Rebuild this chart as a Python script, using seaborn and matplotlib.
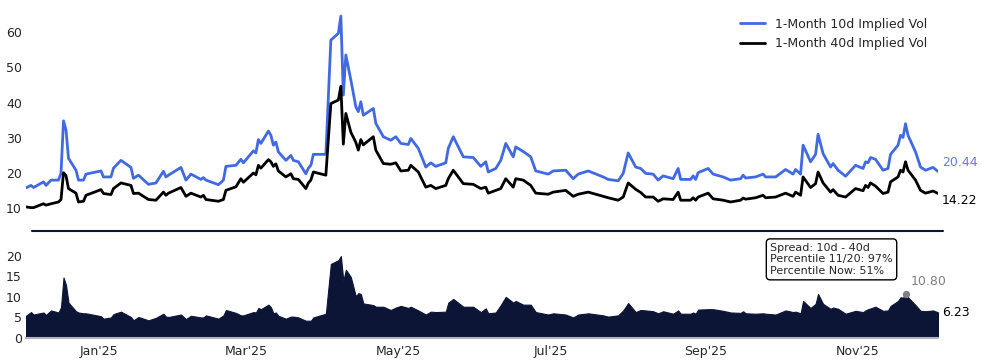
import pandas as pd
import matplotlib.pyplot as plt
import matplotlib.dates as mdates
from matplotlib.lines import Line2D
import seaborn as sns

dates = [
    "2024-12-03", "2024-12-05", "2024-12-06", "2024-12-10", "2024-12-11", "2024-12-13",
    "2024-12-16", "2024-12-17", "2024-12-18", "2024-12-19", "2024-12-20", "2024-12-23",
    "2024-12-24", "2024-12-26", "2024-12-27", "2025-01-02", "2025-01-03", "2025-01-06",
    "2025-01-07", "2025-01-10", "2025-01-14", "2025-01-15", "2025-01-17", "2025-01-21",
    "2025-01-24", "2025-01-27", "2025-01-28", "2025-01-29", "2025-02-03", "2025-02-05",
    "2025-02-07", "2025-02-11", "2025-02-12", "2025-02-13", "2025-02-18", "2025-02-20",
    "2025-02-21", "2025-02-25", "2025-02-27", "2025-02-28", "2025-03-04", "2025-03-05",
    "2025-03-06", "2025-03-07", "2025-03-10", "2025-03-11", "2025-03-12", "2025-03-13",
    "2025-03-14", "2025-03-17", "2025-03-19", "2025-03-20", "2025-03-22", "2025-03-25",
    "2025-03-26", "2025-03-27", "2025-03-28", "2025-04-02", "2025-04-04", "2025-04-07",
    "2025-04-08", "2025-04-09", "2025-04-10", "2025-04-12", "2025-04-14", "2025-04-15",
    "2025-04-16", "2025-04-17", "2025-04-21", "2025-04-22", "2025-04-25", "2025-04-28",
    "2025-04-30", "2025-05-02", "2025-05-05", "2025-05-06", "2025-05-09", "2025-05-12",
    "2025-05-14", "2025-05-16", "2025-05-20", "2025-05-21", "2025-05-23", "2025-05-27",
    "2025-05-31", "2025-06-03", "2025-06-05", "2025-06-06", "2025-06-09", "2025-06-11",
    "2025-06-13", "2025-06-16", "2025-06-17", "2025-06-20", "2025-06-23", "2025-06-25",
    "2025-06-30", "2025-07-02", "2025-07-07", "2025-07-10", "2025-07-12", "2025-07-16",
    "2025-07-22", "2025-07-24", "2025-07-28", "2025-07-30", "2025-08-01", "2025-08-04",
    "2025-08-06", "2025-08-08", "2025-08-11", "2025-08-13", "2025-08-15", "2025-08-19",
    "2025-08-21", "2025-08-22", "2025-08-26", "2025-08-27", "2025-08-28", "2025-08-29",
    "2025-09-02", "2025-09-04", "2025-09-08", "2025-09-11", "2025-09-15", "2025-09-16",
    "2025-09-17", "2025-09-21", "2025-09-24", "2025-09-25", "2025-09-29", "2025-10-03",
    "2025-10-06", "2025-10-07", "2025-10-09", "2025-10-10", "2025-10-13", "2025-10-15",
    "2025-10-16", "2025-10-18", "2025-10-21", "2025-10-22", "2025-10-24", "2025-10-27",
    "2025-10-31", "2025-11-03", "2025-11-04", "2025-11-05", "2025-11-06", "2025-11-08",
    "2025-11-11", "2025-11-13", "2025-11-14", "2025-11-17", "2025-11-18", "2025-11-19",
    "2025-11-20", "2025-11-21", "2025-11-24", "2025-11-26", "2025-11-28", "2025-12-01",
    "2025-12-03",
]

vol_10d = [
    15.8, 16.5, 15.9, 17.5, 16.5, 18.0, 18.0, 20.0, 34.8, 32.2, 24.2, 20.8,
    18.0, 18.0, 19.7, 20.6, 18.9, 18.9, 21.4, 23.6, 21.6, 18.5, 19.4, 16.8,
    17.2, 20.5, 18.9, 19.4, 21.6, 18.0, 19.7, 18.2, 18.7, 18.0, 16.7, 18.0,
    21.9, 22.2, 23.9, 22.9, 26.3, 25.7, 29.5, 28.4, 31.9, 30.7, 27.9, 28.8,
    26.0, 23.6, 25.0, 23.6, 23.2, 19.8, 21.4, 22.2, 25.3, 25.3, 57.7, 59.6,
    64.5, 42.1, 53.5, 46.4, 38.8, 37.4, 40.2, 36.4, 38.3, 34.1, 30.3, 29.3,
    30.3, 28.4, 28.1, 29.8, 27.0, 21.7, 22.9, 21.9, 22.9, 27.0, 30.3, 24.6,
    24.4, 21.9, 23.2, 20.3, 21.3, 23.6, 28.4, 24.6, 27.4, 26.1, 24.6, 20.6,
    19.7, 20.6, 20.8, 18.4, 19.7, 20.6, 18.9, 18.2, 17.8, 19.9, 25.7, 21.7,
    21.3, 19.9, 19.7, 18.0, 19.2, 18.4, 21.3, 18.2, 18.2, 19.2, 18.2, 20.1,
    21.3, 19.7, 18.9, 18.0, 18.4, 19.4, 18.6, 18.9, 19.7, 18.9, 18.9, 21.0,
    19.7, 21.0, 19.7, 27.9, 23.2, 25.3, 31.0, 25.5, 21.7, 22.7, 20.8, 19.1,
    22.2, 21.3, 23.2, 22.9, 24.4, 23.9, 20.8, 21.3, 25.3, 27.9, 30.7, 30.1,
    34.0, 30.7, 26.0, 21.7, 20.8, 21.6, 20.444,
]

vol_40d = [
    10.4, 10.2, 10.2, 11.3, 10.9, 11.3, 11.8, 12.5, 20.1, 19.3, 15.6, 14.3,
    11.8, 12.0, 13.7, 15.3, 14.2, 13.9, 15.6, 17.2, 16.5, 14.2, 14.3, 12.5,
    12.3, 14.6, 13.7, 14.3, 15.9, 13.4, 14.3, 13.2, 13.7, 12.5, 12.0, 12.5,
    15.1, 16.1, 18.4, 17.4, 20.0, 19.5, 22.2, 21.4, 23.8, 23.2, 21.9, 22.6,
    20.6, 18.9, 19.8, 18.4, 18.2, 15.6, 17.2, 18.0, 20.3, 19.4, 39.7, 40.7,
    44.6, 28.2, 36.9, 31.6, 28.7, 26.5, 29.5, 28.0, 30.3, 26.5, 22.7, 22.5,
    22.9, 20.6, 20.8, 22.2, 20.3, 16.0, 16.5, 15.6, 16.5, 18.4, 20.8, 17.0,
    16.8, 15.6, 16.0, 14.3, 15.1, 15.6, 18.4, 16.0, 18.4, 18.0, 16.5, 14.3,
    14.0, 14.6, 15.1, 13.4, 14.0, 14.6, 13.4, 13.0, 12.3, 13.2, 17.2, 15.4,
    14.5, 13.2, 13.2, 12.0, 12.7, 12.5, 14.6, 12.3, 12.3, 13.0, 12.3, 13.2,
    14.3, 12.7, 12.3, 11.8, 12.3, 12.9, 12.6, 13.0, 13.7, 13.0, 13.2, 14.3,
    13.4, 14.6, 13.7, 18.9, 15.9, 17.0, 20.3, 17.2, 14.6, 15.3, 13.7, 13.2,
    15.6, 15.0, 16.5, 15.9, 17.2, 16.3, 14.2, 14.6, 17.5, 18.9, 20.8, 20.3,
    23.2, 20.8, 18.0, 15.1, 14.3, 14.9, 14.216,
]

box_text = "Spread: 10d - 40d\nPercentile 11/20: 97%\nPercentile Now: 51%"
marked_date = "2025-11-20"

df = pd.DataFrame({"date": pd.to_datetime(dates), "v10": vol_10d, "v40": vol_40d})
df["spread"] = df["v10"] - df["v40"]

navy = "#0c1536"
blue = "royalblue"

sns.set_theme(style="white")
plt.rcParams["font.family"] = ["DejaVu Sans"]

fig = plt.figure(figsize=(9.82, 3.62), dpi=100)
ax = fig.add_axes([0.0265, 0.40, 0.9287, 0.582])
ax2 = fig.add_axes([0.0265, 0.0663, 0.9287, 0.2956], sharex=ax)

sns.lineplot(data=df, x="date", y="v10", ax=ax, color=blue, lw=2,
             label="1-Month 10d Implied Vol")
sns.lineplot(data=df, x="date", y="v40", ax=ax, color="black", lw=2,
             label="1-Month 40d Implied Vol")
ax.margins(x=0)
ax.set_yticks([10, 20, 30, 40, 50, 60])
ax.set_xlabel("")
ax.set_ylabel("")
ax.tick_params(axis="x", labelbottom=False, length=0)
ax.tick_params(axis="y", length=0, pad=3, labelsize=9)
for s in ax.spines.values():
    s.set_visible(False)
ax.legend(loc="upper right", frameon=False, fontsize=9)

last = df.iloc[-1]
ax.annotate(f"{last.v10:.2f}", (last.date, last.v10), xytext=(4, 9),
            textcoords="offset pixels", va="center", ha="left",
            color=blue, alpha=0.85, fontsize=9)
ax.annotate(f"{last.v40:.2f}", (last.date, last.v40), xytext=(4, -7),
            textcoords="offset pixels", va="center", ha="left",
            color="black", fontsize=9)

# spread panel
ax2.fill_between(df["date"], 0, df["spread"], color=navy, lw=0.8, edgecolor=navy)
ax2.set_ylim(0, 26)
ax2.set_yticks([0, 5, 10, 15, 20])
ax2.xaxis.set_major_locator(mdates.MonthLocator(bymonth=[1, 3, 5, 7, 9, 11]))
ax2.xaxis.set_major_formatter(mdates.DateFormatter("%b'%y"))
ax2.tick_params(axis="both", length=0, labelsize=9)
ax2.tick_params(axis="x", pad=5)
ax2.tick_params(axis="y", pad=3)
for k, s in ax2.spines.items():
    s.set_visible(k == "bottom")
ax2.spines["bottom"].set_color("#aeb5c2")
ax2.spines["bottom"].set_linewidth(1.5)

mk = df[df["date"] == pd.Timestamp(marked_date)].iloc[0]
ax2.scatter([mk.date], [mk.spread], color="gray", s=18, zorder=5)
ax2.annotate(f"{mk.spread:.2f}", (mk.date, mk.spread), xytext=(5, 12),
             textcoords="offset pixels", va="center", ha="left",
             color="gray", fontsize=9)
ax2.annotate(f"{last.spread:.2f}", (last.date, last.spread), xytext=(4, 0),
             textcoords="offset pixels", va="center", ha="left",
             color="black", fontsize=9)
ax2.text(0.816, 0.89, box_text, transform=ax2.transAxes, va="top", ha="left",
         fontsize=8,
         bbox=dict(boxstyle="round,pad=0.35", fc="white", ec="black", lw=1))

# divider between the panels
fig.add_artist(Line2D([32 / 982, 943 / 982], [1 - 231 / 362, 1 - 231 / 362],
                      color=navy, lw=1.5))

fig.savefig("out.png", dpi=100)
